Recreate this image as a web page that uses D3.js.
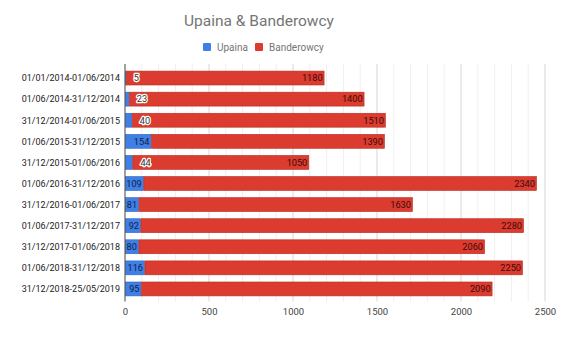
<!DOCTYPE html>
<html>
<head>
<meta charset="utf-8">
<script src="https://cdn.jsdelivr.net/npm/d3@7/dist/d3.min.js"></script>
<style>
  html, body { margin: 0; padding: 0; background: #fff; }
  svg { display: block; font-family: Roboto, "Noto Sans", sans-serif; }
</style>
</head>
<body>
<svg id="chart" width="573" height="339"></svg>
<script>
// Half-year periods
const periods = [
  "01/01/2014-01/06/2014",
  "01/06/2014-31/12/2014",
  "31/12/2014-01/06/2015",
  "01/06/2015-31/12/2015",
  "31/12/2015-01/06/2016",
  "01/06/2016-31/12/2016",
  "31/12/2016-01/06/2017",
  "01/06/2017-31/12/2017",
  "31/12/2017-01/06/2018",
  "01/06/2018-31/12/2018",
  "31/12/2018-25/05/2019"
];
const upaina      = [5, 23, 40, 154, 44, 109, 81, 92, 80, 116, 95];
const banderowcy  = [1180, 1400, 1510, 1390, 1050, 2340, 1630, 2280, 2060, 2250, 2090];
const seriesNames = ["Upaina", "Banderowcy"];
const xTicks      = [0, 500, 1000, 1500, 2000, 2500];

const colors = { Upaina: "#3f7fe6", Banderowcy: "#dc3b2f" };
const strokes = { Upaina: "#2f66c0", Banderowcy: "#b52c22" };

const svg = d3.select("#chart");
const margin = { left: 125, right: 28, top: 67.5, bottom: 39.5 };
const W = 573, H = 339;

const x = d3.scaleLinear().domain([0, 2500]).range([margin.left, W - margin.right]);
const y = d3.scaleBand().domain(periods).range([margin.top, H - margin.bottom]).paddingInner(0.34).paddingOuter(0.17);

// Title
svg.append("text")
  .attr("x", 259).attr("y", 26)
  .attr("text-anchor", "middle")
  .attr("font-size", 15.5)
  .attr("fill", "#757575")
  .text("Upaina & Banderowcy");

// Legend
const legend = svg.append("g").attr("font-size", 10).attr("fill", "#757575");
const legendItems = [
  { name: seriesNames[0], x: 203 },
  { name: seriesNames[1], x: 255 }
];
legendItems.forEach(it => {
  legend.append("rect").attr("x", it.x).attr("y", 43).attr("width", 8).attr("height", 8)
    .attr("rx", 1).attr("fill", colors[it.name]);
  legend.append("text").attr("x", it.x + 14).attr("y", 50.5).text(it.name);
});

// Gridlines: minor every 100, major every 500
const minor = d3.range(100, 2501, 100).filter(v => v % 500 !== 0);
svg.append("g").selectAll("line").data(minor).join("line")
  .attr("x1", d => x(d)).attr("x2", d => x(d))
  .attr("y1", 64).attr("y2", H - margin.bottom + 2)
  .attr("stroke", "#efefef").attr("stroke-width", 1);
svg.append("g").selectAll("line").data(xTicks.slice(1)).join("line")
  .attr("x1", d => x(d)).attr("x2", d => x(d))
  .attr("y1", 64).attr("y2", H - margin.bottom + 2)
  .attr("stroke", "#d6d6d6").attr("stroke-width", 1);

// Stacked bars
const rows = periods.map((p, i) => ({ period: p, vals: [upaina[i], banderowcy[i]] }));
const barG = svg.append("g");
rows.forEach(r => {
  let acc = 0;
  r.vals.forEach((v, k) => {
    const name = seriesNames[k];
    barG.append("rect")
      .attr("x", x(acc) + 0.5)
      .attr("y", y(r.period))
      .attr("width", Math.max(0.5, x(acc + v) - x(acc) - 0.5))
      .attr("height", y.bandwidth())
      .attr("fill", colors[name])
      .attr("stroke", strokes[name])
      .attr("stroke-width", 0.6);
    acc += v;
  });
});

// Value labels
const labelG = svg.append("g").attr("font-size", 9.2);
rows.forEach(r => {
  let acc = 0;
  r.vals.forEach((v, k) => {
    const x0 = x(acc), x1 = x(acc + v);
    const cy = y(r.period) + y.bandwidth() / 2 + 3.3;
    const t = labelG.append("text").attr("y", cy).text(v);
    const w = t.node().getComputedTextLength();
    if (w + 1 <= x1 - x0) {
      t.attr("x", x1 - 1.5).attr("text-anchor", "end")
        .attr("fill", k === 0 ? "#10224a" : "#3b0b07");
    } else {
      // too narrow: place just after the segment with a white halo
      t.attr("x", x1 + 8).attr("text-anchor", "start")
        .attr("fill", "#333")
        .attr("stroke", "#fff").attr("stroke-width", 2.5)
        .attr("paint-order", "stroke")
        .attr("stroke-linejoin", "round");
    }
    acc += v;
  });
});

// Category axis
const yAxis = svg.append("g").attr("font-size", 9).attr("fill", "#222");
periods.forEach(p => {
  yAxis.append("text")
    .attr("x", 120).attr("y", y(p) + y.bandwidth() / 2 + 3.3)
    .attr("text-anchor", "end")
    .text(p);
});
svg.append("line")
  .attr("x1", x(0)).attr("x2", x(0))
  .attr("y1", 64).attr("y2", H - margin.bottom + 2)
  .attr("stroke", "#444").attr("stroke-width", 1);

// Value axis tick labels
const xAxis = d3.axisBottom(x).tickValues(xTicks).tickFormat(d3.format("d")).tickSize(0).tickPadding(0);
const xg = svg.append("g").attr("transform", `translate(0, ${H - margin.bottom + 9})`).call(xAxis);
xg.select(".domain").remove();
xg.selectAll("text").attr("font-size", 9.5).attr("fill", "#444").attr("font-family", "Roboto, 'Noto Sans', sans-serif");
</script>
</body>
</html>
